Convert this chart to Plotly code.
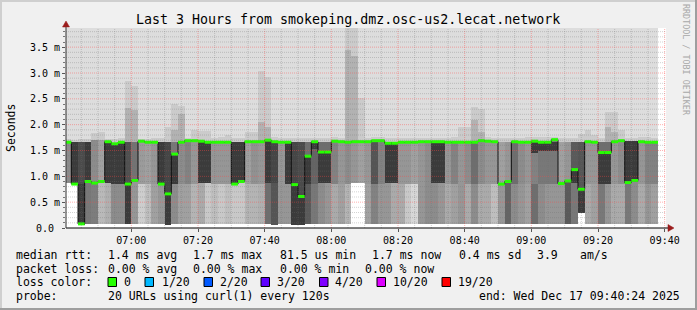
import plotly.graph_objects as go
from datetime import datetime, timedelta

# ---------------- data (values in milliseconds, one entry per 120 s step) ----------------
median_ms = [1.66, 0.85, 0.08, 0.90, 0.87, 0.90, 1.67, 1.63, 1.66, 0.85,
             0.92, 1.68, 1.66, 1.66, 0.85, 0.66, 1.43, 1.66, 1.69, 1.69,
             1.68, 1.66, 1.66, 1.66, 1.66, 0.85, 0.90, 1.67, 1.67, 1.67,
             1.70, 1.67, 1.66, 1.66, 0.84, 0.61, 1.39, 1.67, 1.47, 1.47,
             1.68, 1.67, 1.66, 1.67, 1.67, 1.67, 1.69, 1.69, 1.64, 1.64,
             1.66, 1.66, 1.66, 1.67, 1.67, 1.67, 1.67, 1.66, 1.66, 1.66,
             1.66, 1.66, 1.69, 1.68, 1.67, 0.85, 0.90, 1.67, 1.66, 1.66,
             1.68, 1.66, 1.66, 1.71, 0.86, 0.91, 1.13, 0.75, 1.67, 1.66,
             1.46, 1.46, 1.67, 1.69, 0.88, 0.92, 1.67, 1.66, 1.66, None]

ping_min_ms = [0.87, 0.85, 0.06, 0.08, 0.08, 0.08, 0.08, 0.08, 0.08, 0.08,
               0.08, 0.08, 0.08, 0.08, 0.08, 0.06, 0.08, 0.08, 0.08, 0.08,
               0.08, 0.08, 0.08, 0.08, 0.08, 0.08, 0.08, 0.08, 0.08, 0.08,
               0.08, 0.06, 0.08, 0.08, 0.06, 0.06, 0.08, 0.08, 0.08, 0.08,
               0.08, 0.08, 0.08, 0.87, 0.87, 0.08, 0.08, 0.08, 0.08, 0.08,
               0.08, 0.08, 0.08, 0.08, 0.08, 0.08, 0.08, 0.08, 0.08, 0.08,
               0.08, 0.08, 0.08, 0.08, 0.08, 0.08, 0.08, 0.08, 0.08, 0.08,
               0.08, 0.08, 0.08, 0.08, 0.08, 0.08, 0.08, 0.30, 0.08, 0.08,
               0.08, 0.08, 0.08, 0.08, 0.08, 0.08, 0.08, 0.08, 0.08, None]

split_ms = [0.87, 0.85, 0.86, 0.90, 0.87, 0.90, 0.87, 0.85, 0.86, 0.85,
            0.92, 0.85, 0.85, 0.85, 0.85, 0.66, 0.85, 0.85, 0.85, 0.85,
            0.87, 0.87, 0.85, 0.85, 0.85, 0.85, 0.90, 0.85, 0.85, 0.85,
            0.87, 0.87, 0.85, 0.86, 0.84, 0.61, 0.86, 0.86, 0.87, 0.87,
            0.85, 0.85, 0.85, 0.87, 0.87, 0.85, 0.85, 0.85, 0.87, 0.87,
            0.85, 0.85, 0.85, 0.85, 0.85, 0.88, 0.88, 0.85, 0.85, 0.85,
            0.85, 0.85, 0.85, 0.85, 0.85, 0.85, 0.90, 0.85, 0.85, 0.85,
            0.85, 0.85, 0.85, 0.85, 0.86, 0.91, 0.87, 0.75, 0.85, 0.85,
            0.86, 0.86, 0.85, 0.85, 0.88, 0.92, 0.85, 0.85, 0.85, None]

upper_ms = [1.66, 1.66, 1.66, 1.66, 1.70, 1.70, 1.67, 1.65, 1.66, 1.66,
            1.66, 1.68, 1.66, 1.66, 1.66, 1.66, 1.66, 1.66, 1.69, 1.69,
            1.68, 1.66, 1.66, 1.66, 1.66, 1.66, 1.66, 1.67, 1.67, 1.67,
            1.68, 1.67, 1.66, 1.66, 1.66, 1.66, 1.66, 1.67, 1.66, 1.66,
            1.68, 1.67, 1.66, 1.67, 1.67, 1.67, 1.69, 1.69, 1.66, 1.66,
            1.66, 1.66, 1.66, 1.67, 1.67, 1.67, 1.67, 1.66, 1.66, 1.66,
            1.66, 1.66, 1.69, 1.68, 1.67, 1.66, 1.66, 1.67, 1.66, 1.66,
            1.68, 1.66, 1.66, 1.68, 1.66, 1.66, 1.66, 1.66, 1.67, 1.66,
            1.66, 1.66, 1.67, 1.69, 1.68, 1.68, 1.67, 1.66, 1.66, None]

spike_ms = [1.72, 1.70, 1.72, 1.72, 1.84, 1.86, 1.72, 1.72, 1.74, 2.85,
            2.75, 1.72, 1.72, 1.74, 1.74, 1.96, 2.40, 2.37, 1.74, 1.90,
            1.88, 1.88, 1.74, 1.76, 1.80, 1.74, 1.74, 1.85, 1.85, 3.03,
            2.93, 1.76, 1.74, 1.74, 1.74, 1.74, 1.74, 1.74, 1.74, 1.74,
            1.76, 1.74, 4.20, 4.20, 2.52, 1.74, 1.76, 1.76, 1.74, 1.74,
            1.74, 1.74, 1.74, 1.74, 1.74, 1.74, 1.74, 1.74, 1.76, 1.95,
            1.95, 2.35, 2.30, 1.76, 1.74, 1.74, 1.74, 1.74, 1.74, 1.76,
            1.76, 1.76, 1.76, 1.76, 1.74, 1.74, 1.74, 1.82, 1.89, 1.80,
            1.74, 2.25, 2.25, 1.90, 1.74, 1.74, 1.76, 1.76, 1.74, None]

spike_inner_ms = [None, None, None, None, None, None, None, None, None, 2.33,
                  2.28, None, None, None, None, None, 1.90, 2.20, None, None,
                  None, None, None, None, None, None, None, None, None, 2.05,
                  1.95, None, None, None, None, None, None, None, None, None,
                  None, None, 3.45, 3.32, None, None, None, None, None, None,
                  None, None, None, None, None, None, None, None, None, None,
                  None, 2.10, 1.85, None, None, None, None, None, None, None,
                  None, None, None, None, None, None, None, None, None, None,
                  None, 1.95, 1.85, None, None, None, None, None, None, None]

core_lo_ms = [None, 0.85, 0.08, 0.90, None, None, 0.87, 0.85, 0.86, 0.08,
              None, None, None, None, 0.85, 0.06, 0.85, None, None, None,
              0.87, 0.87, None, None, None, 0.85, 0.90, None, None, None,
              0.87, None, None, 0.86, 0.06, 0.06, 0.86, 1.52, 0.87, 0.87,
              None, None, None, None, None, None, None, None, 0.87, 0.87,
              None, None, None, None, None, 0.88, 0.88, None, None, None,
              None, None, None, None, None, None, None, None, None, None,
              1.45, 1.50, 1.50, 1.50, None, None, 0.87, 0.30, None, None,
              0.86, 0.86, None, None, 0.88, 0.92, None, None, None, None]

core_hi_ms = [None, 1.66, 0.86, 1.66, None, None, 1.67, 1.63, 1.66, 0.85,
              None, None, None, None, 1.66, 0.66, 1.43, None, None, None,
              1.68, 1.66, None, None, None, 1.66, 1.66, None, None, None,
              1.66, None, None, 1.66, 0.84, 0.61, 1.39, 1.67, 1.47, 1.47,
              None, None, None, None, None, None, None, None, 1.64, 1.64,
              None, None, None, None, None, 1.67, 1.67, None, None, None,
              None, None, None, None, None, None, None, None, None, None,
              1.66, 1.66, 1.66, 1.66, None, None, 1.13, 0.75, None, None,
              1.46, 1.46, None, None, 1.68, 1.68, None, None, None, None]

# grey level (0-255) of the lower smoke band and of the middle smoke band
shade_low = [200, 200, 60, 120, 125, 185, 175, 140, 140, 60,
             150, 205, 190, 160, 150, 60, 140, 160, 160, 180,
             170, 200, 190, 200, 190, 200, 200, 180, 180, 175,
             110, 85, 150, 150, 60, 60, 90, 120, 140, 150,
             170, 160, 180, 200, 200, 160, 130, 150, 150, 170,
             170, 200, 215, 150, 140, 140, 150, 170, 160, 150,
             170, 140, 170, 170, 190, 150, 100, 140, 150, 160,
             110, 140, 150, 150, 150, 90, 120, 60, 170, 160,
             120, 150, 170, 170, 120, 140, 170, 150, 160, None]

shade_mid = [140, 60, 75, 60, 140, 160, 60, 60, 60, 80,
             115, 155, 160, 150, 60, 70, 120, 140, 130, 150,
             60, 60, 150, 150, 150, 60, 60, 160, 145, 150,
             60, 70, 150, 60, 70, 75, 110, 100, 110, 110,
             130, 150, 140, 150, 160, 150, 85, 130, 60, 60,
             150, 150, 160, 150, 140, 60, 60, 150, 130, 150,
             140, 110, 140, 150, 150, 160, 150, 110, 140, 150,
             130, 120, 120, 120, 160, 150, 90, 85, 150, 150,
             110, 110, 150, 140, 60, 60, 150, 130, 130, None]

x_tick_text = ["07:00", "07:20", "07:40", "08:00", "08:20", "08:40", "09:00", "09:20", "09:40"]
y_tick_vals = [0.0, 0.5, 1.0, 1.5, 2.0, 2.5, 3.0, 3.5]
y_tick_text = ["0.0\u00a0", "0.5 m", "1.0 m", "1.5 m", "2.0 m", "2.5 m", "3.0 m", "3.5 m"]

title_text = "Last 3 Hours from smokeping.dmz.osc-us2.lecat.network"
rtt_labels = ["1.4 ms avg", "1.7 ms max", "81.5 us min", "1.7 ms now", "0.4 ms sd", "3.9", "am/s"]
loss_stat_labels = ["0.00 % avg", "0.00 % max", "0.00 % min", "0.00 % now"]
loss_labels = ["0", "1/20", "2/20", "3/20", "4/20", "10/20", "19/20"]
loss_colors = ["#26ff00", "#00b8ff", "#0059ff", "#5e00ff", "#7e00ff", "#dd00ff", "#ff0000"]
probe_text = "20 URLs using curl(1) every 120s"
end_text = "end: Wed Dec 17 09:40:24 2025"

# ---------------- geometry / style ----------------
STEP_S = 120
t_first = datetime(2025, 12, 17, 6, 40, 0)
t_start = datetime(2025, 12, 17, 6, 40, 24)
t_end = datetime(2025, 12, 17, 9, 40, 24)
Y_TOP = 3.871
FONT = "DejaVu Sans Mono"
PL, PR, PT, PB = 66, 666, 28, 228
W, H = 697, 310

def px(x):
    return (x - PL) / (PR - PL)

def py(y):
    return (PB - y) / (PB - PT)

n = len(median_ms)
centers = [t_first + timedelta(seconds=STEP_S * k + STEP_S / 2) for k in range(n)]
starts = [t_first + timedelta(seconds=STEP_S * k) for k in range(n + 1)]

def band_bar(lo, hi, color):
    base, h = [], []
    for a, b in zip(lo, hi):
        if a is None or b is None or b <= a:
            base.append(None)
            h.append(None)
        else:
            base.append(a)
            h.append(b - a)
    return go.Bar(x=centers, y=h, base=base, width=[STEP_S * 1000] * n,
                  marker=dict(color=color, line=dict(width=0)),
                  hoverinfo="skip", showlegend=False)

def greys(levels):
    return ["rgb(%d,%d,%d)" % (s, s, s) if s is not None else "rgba(0,0,0,0)" for s in levels]

fig = go.Figure()
cap_top = [Y_TOP + 0.5 if p is not None else None for p in ping_min_ms]
fig.add_trace(band_bar(ping_min_ms, cap_top, "#dddddd"))
fig.add_trace(band_bar(upper_ms, spike_ms, "#cbcbcb"))
fig.add_trace(band_bar(upper_ms, spike_inner_ms, "#b2b2b2"))
fig.add_trace(band_bar(ping_min_ms, split_ms, greys(shade_low)))
fig.add_trace(band_bar(split_ms, upper_ms, greys(shade_mid)))
fig.add_trace(band_bar(core_lo_ms, core_hi_ms, "#3b3b3b"))

# median: dark step line + green loss-colour band
fig.add_trace(go.Scatter(x=starts[:n], y=median_ms, mode="lines",
                         line=dict(color="#111111", width=1, shape="hv"),
                         hoverinfo="skip", showlegend=False, connectgaps=False))
gx, gy = [], []
for k in range(n):
    if median_ms[k] is None:
        continue
    gx += [starts[k], starts[k + 1], None]
    gy += [median_ms[k], median_ms[k], None]
fig.add_trace(go.Scatter(x=gx, y=gy, mode="lines",
                         line=dict(color=loss_colors[0], width=3),
                         hoverinfo="skip", showlegend=False))

shapes = []
# grid (drawn above the smoke, like rrdtool)
minor_col = "rgba(110,110,110,0.30)"
major_col = "rgba(255,70,70,0.42)"
for i in range(1, 37):
    t = t_first + timedelta(minutes=5 * i)
    major = (t.minute % 20 == 0)
    shapes.append(dict(type="line", xref="x", yref="y", x0=t, x1=t, y0=0, y1=Y_TOP,
                       line=dict(color=major_col if major else minor_col, width=1, dash="1px,1px"),
                       layer="above"))
for i in range(1, 39):
    v = round(0.1 * i, 2)
    major = (i % 5 == 0)
    shapes.append(dict(type="line", xref="x", yref="y", x0=t_start, x1=t_end, y0=v, y1=v,
                       line=dict(color=major_col if major else minor_col, width=1, dash="1px,1px"),
                       layer="above"))

# axes lines + arrows
shapes.append(dict(type="line", xref="paper", yref="paper", x0=px(PL), x1=px(670), y0=py(PB), y1=py(PB),
                   line=dict(color="#000000", width=1), layer="above"))
shapes.append(dict(type="line", xref="paper", yref="paper", x0=px(PL), x1=px(PL), y0=py(PB), y1=py(24),
                   line=dict(color="#333333", width=1), layer="above"))
arrow_col = "#9b1c1c"
shapes.append(dict(type="path", xref="paper", yref="paper",
                   path="M %f %f L %f %f L %f %f Z" % (px(668), py(224.5), px(674), py(228), px(668), py(231.5)),
                   fillcolor=arrow_col, line=dict(color=arrow_col, width=0.5), layer="above"))
shapes.append(dict(type="path", xref="paper", yref="paper",
                   path="M %f %f L %f %f L %f %f Z" % (px(62.5), py(27), px(66), py(21), px(69.5), py(27)),
                   fillcolor=arrow_col, line=dict(color=arrow_col, width=0.5), layer="above"))

# frame of the image
shapes.append(dict(type="line", xref="paper", yref="paper", x0=px(0), x1=px(W), y0=py(1), y1=py(1),
                   line=dict(color="#cfcfcf", width=2)))
shapes.append(dict(type="line", xref="paper", yref="paper", x0=px(1), x1=px(1), y0=py(0), y1=py(H),
                   line=dict(color="#cfcfcf", width=2)))
shapes.append(dict(type="line", xref="paper", yref="paper", x0=px(0), x1=px(W), y0=py(H - 1), y1=py(H - 1),
                   line=dict(color="#9e9e9e", width=2)))
shapes.append(dict(type="line", xref="paper", yref="paper", x0=px(W - 1), x1=px(W - 1), y0=py(0), y1=py(H),
                   line=dict(color="#9e9e9e", width=2)))

# loss colour legend boxes
box_x = [108, 145, 204, 261, 319.5, 377, 442]
for bx, col in zip(box_x, loss_colors):
    shapes.append(dict(type="rect", xref="paper", yref="paper",
                       x0=px(bx), x1=px(bx + 8.5), y0=py(286.5), y1=py(277.5),
                       fillcolor=col, line=dict(color="#000000", width=1)))

def ann(text, x, y, size=11.5, anchor="left", color="#000000", angle=0):
    return dict(text=text, x=px(x), y=py(y), xref="paper", yref="paper",
                xanchor=anchor, yanchor="middle", showarrow=False, borderpad=0,
                textangle=angle, font=dict(family=FONT, size=size, color=color))

annotations = [
    ann(title_text, 348, 19.5, size=13.3, anchor="center"),
    ann("Seconds", 11, 128, size=11.5, anchor="center", angle=-90),
    ann("RRDTOOL / TOBI OETIKER", 686, 60, size=8.4, anchor="center", color="#a8a8a8", angle=90),
]
row1, row2, row3, row4 = 254.5, 268.5, 282, 296
annotations.append(ann("median rtt:", 15, row1))
for txt, x in zip(rtt_labels, [107, 192, 278.5, 371, 457.5, 535.5, 578.5]):
    annotations.append(ann(txt, x, row1))
annotations.append(ann("packet loss:", 15, row2))
for txt, x in zip(loss_stat_labels, [107, 192, 278.5, 364]):
    annotations.append(ann(txt, x, row2))
annotations.append(ann("loss color:", 15, row3))
for txt, x in zip(loss_labels, [123, 160.5, 218.5, 275.5, 334, 391.5, 457]):
    annotations.append(ann(txt, x, row3))
annotations.append(ann("probe:", 15, row4))
annotations.append(ann(probe_text, 107, row4))
annotations.append(ann(end_text, 477.5, row4))

x_tick_vals = [datetime(2025, 12, 17, 7, 0) + timedelta(minutes=20 * i) for i in range(len(x_tick_text))]

fig.update_layout(
    width=W, height=H,
    margin=dict(l=PL, r=W - PR, t=PT, b=H - PB, pad=0),
    paper_bgcolor="#f0f0f0", plot_bgcolor="#ffffff",
    barmode="overlay", bargap=0, showlegend=False,
    font=dict(family=FONT, size=10, color="#000000"),
    shapes=shapes, annotations=annotations,
    xaxis=dict(type="date", range=[t_start, t_end], tickmode="array",
               tickvals=x_tick_vals, ticktext=x_tick_text,
               showgrid=False, zeroline=False, showline=False,
               ticks="outside", ticklen=3, tickcolor="#555555",
               tickfont=dict(family=FONT, size=10, color="#000000"),
               fixedrange=True),
    yaxis=dict(range=[0, Y_TOP], tickmode="array", tickvals=y_tick_vals, ticktext=y_tick_text,
               showgrid=False, zeroline=False, showline=False,
               ticks="outside", ticklen=3, tickcolor="#555555",
               minor=dict(tickmode="linear", tick0=0, dtick=0.1, ticks="outside", ticklen=2,
                          tickcolor="#777777", showgrid=False),
               tickfont=dict(family=FONT, size=10, color="#000000"),
               fixedrange=True),
)

fig.write_html("out.html", config={"displayModeBar": False})
